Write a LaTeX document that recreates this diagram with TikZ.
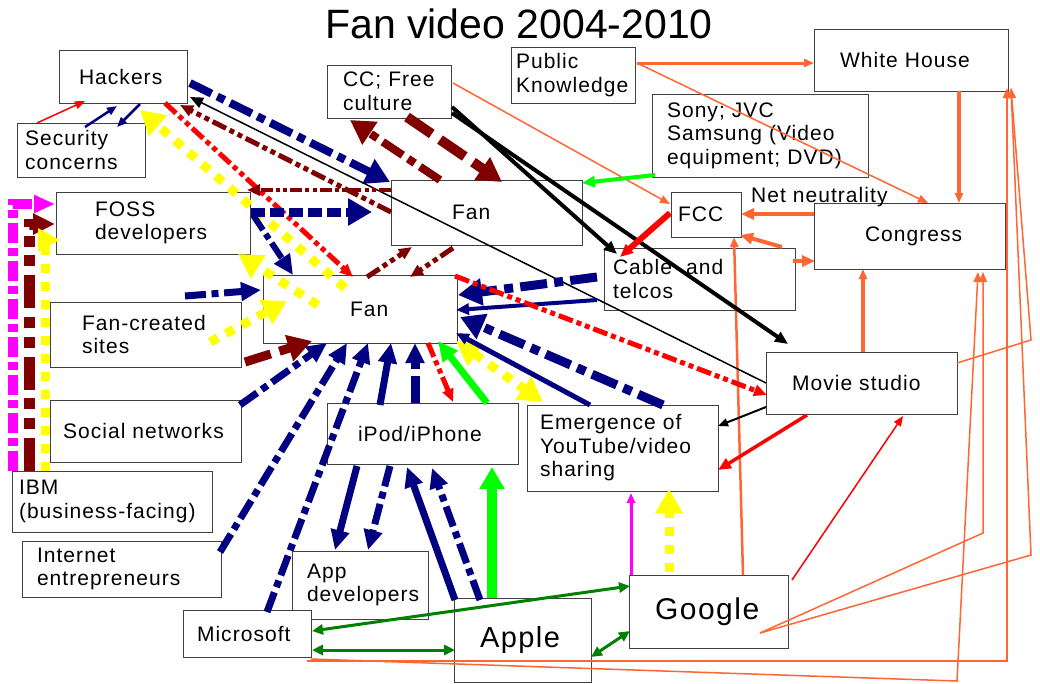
\documentclass[tikz,border=0pt]{standalone}
\usepackage{fontspec}
\setmainfont{Liberation Sans}[LetterSpace=5]
\newfontfamily\titlefont{Liberation Sans}
\usetikzlibrary{arrows.meta}
\definecolor{nv}{HTML}{000080}
\definecolor{mr}{HTML}{800000}
\definecolor{og}{HTML}{FF6633}
\definecolor{lm}{HTML}{00FF00}
\definecolor{dg}{HTML}{008000}
\definecolor{mg}{HTML}{FF00FF}
\definecolor{yl}{HTML}{FFFF00}
\newcommand\fs{\fontsize{21}{23.5}\selectfont}
\newcommand\rel[3]{([shift={(#2,#3)}]#1.north west)}
\tikzset{
  box/.style={draw=black!75, line width=1pt, fill=white, inner sep=0pt, outer sep=0pt, align=left, font=\fs},
  hB/.style={-{Triangle[length=24pt,width=26pt]}},
  hBB/.style={{Triangle[length=24pt,width=26pt]}-{Triangle[length=24pt,width=26pt]}},
  hM/.style={-{Triangle[length=20pt,width=18pt]}},
  hS/.style={-{Triangle[length=13pt,width=11pt]}},
  hXS/.style={-{Triangle[length=10pt,width=8pt]}},
  hGG/.style={{Triangle[length=11pt,width=10pt]}-{Triangle[length=11pt,width=10pt]}},
  ddot/.style={dash pattern=on 3\pgflinewidth off 0.8\pgflinewidth on 1\pgflinewidth off 0.8\pgflinewidth},
  dddot/.style={dash pattern=on 3\pgflinewidth off 0.8\pgflinewidth on 1\pgflinewidth off 0.8\pgflinewidth on 1\pgflinewidth off 0.8\pgflinewidth},
  ldash/.style={dash pattern=on 1.6\pgflinewidth off 0.5\pgflinewidth},
  bdash/.style={dash pattern=on 3\pgflinewidth off 1\pgflinewidth},
  sqdot/.style={dash pattern=on 1\pgflinewidth off 1\pgflinewidth},
  mgd/.style={dash pattern=on 2\pgflinewidth off 0.5\pgflinewidth on 0.8\pgflinewidth off 0.5\pgflinewidth},
}
\begin{document}
\begin{tikzpicture}[x=1pt,y=-1pt]
\fill[white] (0,0) rectangle (1040,683);
\useasboundingbox (0,0) rectangle (1040,683);

\node[font=\titlefont\fontsize{41}{46}\selectfont, anchor=base] (title) at (519,38) {Fan video 2004-2010};

\node[box, minimum width=128pt, minimum height=53pt, text width=88pt] (hack) at (123,76.5) {Hackers};
\node[box, minimum width=128pt, minimum height=54pt, text width=112pt] (sec) at (81,150) {Security\\concerns};
\node[box, minimum width=194pt, minimum height=62pt, text width=116pt] (foss) at (153,223) {FOSS\\developers};
\node[box, minimum width=124pt, minimum height=53pt, text width=92pt] (cc) at (389,91.5) {CC; Free\\culture};
\node[box, minimum width=124pt, minimum height=56pt, text width=114pt] (pk) at (573,75) {Public\\Knowledge};
\node[box, minimum width=194pt, minimum height=62pt, text width=142pt] (wh) at (911,60) {White House};
\node[box, minimum width=216pt, minimum height=83pt, text width=186pt] (sony) at (760,135.5) {Sony; JVC\\Samsung (Video\\equipment; DVD)};
\node[box, minimum width=70pt, minimum height=45pt, text width=56pt] (fcc) at (706,214.5) {FCC};
\node[box, minimum width=191pt, minimum height=66pt, text width=89pt] (cong) at (909.5,236) {Congress};
\node[box, minimum width=191pt, minimum height=62pt, text width=173pt] (cable) at (699.5,279) {Cable\hspace{14pt}and\\telcos};
\node[box, minimum width=191pt, minimum height=65pt, text width=69pt] (fanu) at (486.5,212.5) {Fan};
\node[box, minimum width=194pt, minimum height=68pt, text width=20pt] (fanl) at (360,309) {Fan};
\node[box, minimum width=191pt, minimum height=65pt, text width=127pt] (fcs) at (145.5,334.5) {Fan-created\\sites};
\node[box, minimum width=191pt, minimum height=62pt, text width=165pt] (soc) at (145.5,431) {Social networks};
\node[box, minimum width=200pt, minimum height=61pt, text width=186pt] (ibm) at (112,501.5) {IBM\\\mbox{(business-facing)}};
\node[box, minimum width=199pt, minimum height=56pt, text width=169pt] (inet) at (121.5,569) {Internet\\entrepreneurs};
\node[box, minimum width=191pt, minimum height=61pt, text width=129pt] (ipod) at (422.5,433.5) {iPod/iPhone};
\node[box, minimum width=191pt, minimum height=86pt, text width=165pt] (yt) at (622.5,448) {Emergence of\\YouTube/video\\sharing};
\node[box, minimum width=191pt, minimum height=62pt, text width=139pt] (movie) at (861.5,383) {Movie studio};
\node[box, minimum width=136pt, minimum height=68pt, text width=106pt] (app) at (360,585) {App\\developers};
\node[box, minimum width=128pt, minimum height=47pt, text width=100pt] (ms) at (247,633.5) {Microsoft};
\node[box, minimum width=137pt, minimum height=84pt, text width=85pt, font=\fontsize{29}{33}\selectfont] (apple) at (522.5,640) {Apple};
\node[box, minimum width=159pt, minimum height=73pt, text width=107pt, font=\fontsize{30}{34}\selectfont] (google) at (708.5,611.5) {Google};
\node[font=\fs, anchor=west, inner sep=0pt] (nn) at (751,197) {Net neutrality};

\coordinate (b1) at (957,681);
\coordinate (b2) at (983,533);
\coordinate (b3) at (1031,555);
\coordinate (b4) at (1031,340);

% orange network
\draw[og, line width=2.5pt, hXS] \rel{ms}{124}{51} -| \rel{wh}{193}{59};
\draw[og, line width=1.5pt, hXS] \rel{ms}{128}{49} -- (b1) -- \rel{cong}{164}{69};
\draw[og, line width=1.5pt, hXS] \rel{google}{131}{58} -- (b2) -- \rel{cong}{169}{69};
\draw[og, line width=1.5pt, hXS] \rel{google}{131}{58} -- (b3) -- \rel{wh}{197}{59};
\draw[og, line width=1.5pt, hXS] \rel{movie}{191}{11} -- (b4) -- \rel{wh}{197}{59};
\draw[og, line width=1.5pt, hXS] \rel{cc}{126}{18} -- \rel{fcc}{-1}{12};
\draw[og, line width=3pt, hXS] \rel{pk}{126}{16} -- \rel{wh}{0}{34};
\draw[og, line width=1.5pt, hXS] \rel{pk}{126}{16} -- \rel{cong}{114}{0};
\draw[og, line width=4pt, hXS] \rel{wh}{145}{62} -- \rel{cong}{145}{0};
\draw[og, line width=4pt, hS] \rel{cong}{0}{11} -- \rel{fcc}{70}{22};
\draw[og, line width=4pt, hS] \rel{cable}{178}{-1} -- \rel{fcc}{69}{43};
\draw[og, line width=4pt, hS] \rel{cable}{189}{13} -- \rel{cong}{1}{58};
\draw[og, line width=2.5pt, hXS] \rel{google}{114}{0} -- \rel{fcc}{63}{45};
\draw[og, line width=4pt, hXS] \rel{movie}{97}{0} -- \rel{cong}{49}{66};

% IBM elbows
\draw[mg, line width=10pt, mgd, -{Triangle[length=21pt,width=17pt]}] \rel{ibm}{1}{0} |- \rel{foss}{-1}{12};
\draw[mr, line width=11pt, dddot, -{Triangle[length=22pt,width=20pt]}] \rel{ibm}{17}{0} |- \rel{foss}{-1}{32};
\draw[yl, line width=9pt, sqdot, -{Triangle[length=22pt,width=22pt]}] \rel{ibm}{33}{0} |- \rel{foss}{4}{48};

% hackers / security
\draw[red, line width=1.5pt, hXS] \rel{sec}{20}{0} -- \rel{hack}{26}{51};
\draw[nv, line width=2.5pt, hXS] \rel{sec}{68}{4} -- \rel{hack}{58}{56};
\draw[nv, line width=2.5pt, hXS] \rel{hack}{81}{54} -- \rel{sec}{100}{4};
\draw[nv, line width=8pt, ddot, hB] \rel{hack}{131}{33} -- \rel{fanu}{-1}{2};
\draw[black, line width=1.5pt, hS] \rel{movie}{0}{31} -- \rel{hack}{131}{47};
\draw[mr, line width=5pt, dddot, hS] \rel{fanu}{0}{32} -- \rel{hack}{121}{55};
\draw[red, line width=5pt, dddot, hS] \rel{hack}{106}{53} -- \rel{fanl}{90}{2};
\draw[yl, line width=9pt, sqdot, hB] \rel{fanl}{82}{13} -- \rel{hack}{81}{60};

% FOSS
\draw[mr, line width=4pt, dddot, hS] \rel{fanu}{0}{10} -- \rel{foss}{191}{-2};
\draw[nv, line width=9pt, ldash, hB] \rel{foss}{195}{20} -- \rel{fanu}{-19}{32};
\draw[nv, line width=6pt, ddot, hM] \rel{foss}{197}{23} -- \rel{fanl}{30}{0};
\draw[yl, line width=9pt, sqdot, hB] \rel{fanl}{55}{30} -- \rel{foss}{182}{62};

% left boxes to lower Fan
\draw[nv, line width=7pt, ddot, hM] \rel{fcs}{135}{-6} -- \rel{fanl}{-2}{15};
\draw[yl, line width=9pt, sqdot, hB] \rel{fcs}{160}{40} -- \rel{fanl}{24}{26};
\draw[mr, line width=9pt, bdash, hB] \rel{fcs}{195}{60} -- \rel{fanl}{49}{66};
\draw[nv, line width=7pt, ddot, hM] \rel{soc}{190}{5} -- \rel{fanl}{64}{68};
\draw[nv, line width=7pt, ddot, hM] \rel{inet}{198}{11} -- \rel{fanl}{84}{68};
\draw[nv, line width=7pt, ddot, hM] \rel{ms}{84}{2} -- \rel{fanl}{105}{68};

% iPod area
\draw[nv, line width=7pt, hM] \rel{ipod}{53}{2} -- \rel{fanl}{128}{68};
\draw[nv, line width=9pt, ddot, hM] \rel{ipod}{88}{0} -- \rel{fanl}{152}{68};
\draw[nv, line width=7pt, hM] \rel{ipod}{30}{63} -- \rel{app}{43}{-1};
\draw[nv, line width=7pt, ddot, hM] \rel{ipod}{63}{63} -- \rel{app}{76}{-1};
\draw[nv, line width=7pt, hM] \rel{apple}{1}{2} -- \rel{ipod}{80}{64};
\draw[nv, line width=7pt, ddot, hM] \rel{apple}{26}{2} -- \rel{ipod}{105}{65};
\draw[lm, line width=10pt, -{Triangle[length=22pt,width=24pt]}] \rel{apple}{38}{0} -- \rel{ipod}{165}{64};
\draw[lm, line width=7pt, hM] \rel{ipod}{160}{0} -- \rel{fanl}{175}{66};
\draw[red, line width=5pt, dddot, hS] \rel{fanl}{165}{68} -- \rel{ipod}{126}{-1};

% YouTube / cable to lower Fan
\draw[yl, line width=9pt, sqdot, hBB] \rel{fanl}{193}{66} -- \rel{yt}{16}{-3};
\draw[nv, line width=5pt, hS] \rel{yt}{63}{0} -- \rel{fanl}{193}{58};
\draw[nv, line width=9pt, ddot, hB] \rel{yt}{136}{0} -- \rel{fanl}{197}{42};
\draw[nv, line width=9pt, ddot, hB] \rel{cable}{-7}{29} -- \rel{fanl}{195}{20};
\draw[nv, line width=4pt, hS] \rel{cable}{-7}{52} -- \rel{fanl}{193}{35};
\draw[red, line width=5pt, dddot, hS] \rel{fanl}{192}{1} -- \rel{movie}{1}{43};

% CC
\draw[black, line width=4pt, hS] \rel{cc}{125}{42} -- \rel{cable}{13}{6};
\draw[black, line width=4pt, hS] \rel{cc}{125}{48} -- \rel{movie}{22}{-8};
\draw[mr, line width=10pt, bdash, hB] \rel{cc}{80}{52} -- \rel{fanu}{111}{2};
\draw[mr, line width=8pt, ddot, hB] \rel{fanu}{49}{0} -- \rel{cc}{23}{55};

% Fan <-> Fan
\draw[mr, line width=5pt, dddot, hS] \rel{fanl}{104}{2} -- \rel{fanu}{21}{67};
\draw[mr, line width=5pt, dddot, hS] \rel{fanu}{62}{68} -- \rel{fanl}{147}{2};

% Sony, FCC
\draw[lm, line width=4pt, hS] \rel{sony}{3}{81} -- \rel{fanu}{191}{3};
\draw[red, line width=6pt, hS] \rel{fcc}{-1}{21} -- \rel{cable}{16}{9};

% Movie studio / YouTube / Google
\draw[red, line width=3.5pt, hS] \rel{movie}{41}{63} -- \rel{yt}{191}{65};
\draw[black, line width=2pt, hXS] \rel{movie}{0}{55} -- \rel{yt}{191}{21};
\draw[red, line width=1.5pt, hXS] \rel{google}{163}{5} -- \rel{movie}{137}{64};
\draw[mg, line width=3pt, hXS] \rel{google}{2}{0} -- \rel{yt}{104}{88};
\draw[yl, line width=9pt, sqdot, hB] \rel{google}{40}{-3} -- \rel{yt}{142}{84};

% green company links
\draw[dg, line width=3pt, hGG] \rel{ms}{129}{21} -- \rel{google}{1}{11};
\draw[dg, line width=3pt, hGG] \rel{ms}{129}{40} -- \rel{apple}{1}{52};
\draw[dg, line width=3pt, hGG] \rel{apple}{137}{59} -- \rel{google}{1}{56};
\end{tikzpicture}
\end{document}
